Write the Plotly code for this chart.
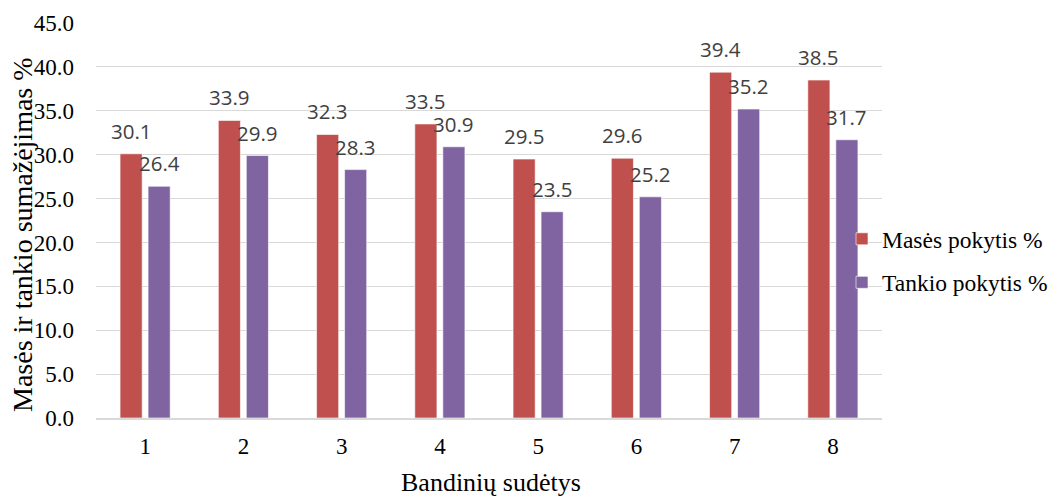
import plotly.graph_objects as go

categories = ["1", "2", "3", "4", "5", "6", "7", "8"]
mases = [30.1, 33.9, 32.3, 33.5, 29.5, 29.6, 39.4, 38.5]
tankio = [26.4, 29.9, 28.3, 30.9, 23.5, 25.2, 35.2, 31.7]
series_names = ["Masės pokytis %", "Tankio pokytis %"]
y_title = "Masės ir tankio sumažėjimas %"
x_title = "Bandinių sudėtys"

RED = "#C0504D"
PURPLE = "#8064A2"
SERIF = "Liberation Serif"
SANS = "Open Sans"

W, H = 1051, 496
ml, mr, mt, mb = 96, 169, 23, 78
pw, ph = W - ml - mr, H - mt - mb

fig = go.Figure()
fig.add_trace(go.Bar(x=categories, y=mases, name=series_names[0],
                     marker=dict(color=RED, line=dict(color="rgba(255,255,255,0.6)", width=1)),
                     legendgroup="a"))
fig.add_trace(go.Bar(x=categories, y=tankio, name=series_names[1],
                     marker=dict(color=PURPLE, line=dict(color="rgba(255,255,255,0.6)", width=1)),
                     legendgroup="b"))

ann = []
for i, v in enumerate(mases):
    ann.append(dict(x=i, y=v, xref="x", yref="y", text=f"{v:.1f}", showarrow=False,
                    xshift=-14, yshift=23, yanchor="middle", xanchor="center",
                    font=dict(family=SANS, size=20.5, color="#404040")))
for i, v in enumerate(tankio):
    ann.append(dict(x=i, y=v, xref="x", yref="y", text=f"{v:.1f}", showarrow=False,
                    xshift=14, yshift=23, yanchor="middle", xanchor="center",
                    font=dict(family=SANS, size=20.5, color="#404040")))
# axis titles
ann.append(dict(x=(22 - ml) / pw, y=(H - mb - 235) / ph, xref="paper", yref="paper",
                text=y_title, textangle=-90, showarrow=False, xanchor="center", yanchor="middle",
                font=dict(family=SERIF, size=28, color="black")))
ann.append(dict(x=(491 - ml) / pw, y=-(482 - (H - mb)) / ph, xref="paper", yref="paper",
                text=x_title, showarrow=False, xanchor="center", yanchor="middle",
                font=dict(family=SERIF, size=26, color="black")))
# clipped panel letter at top-left
ann.append(dict(x=(0 - ml) / pw, y=1 + (mt - 4) / ph, xref="paper", yref="paper",
                text="a.", showarrow=False, xanchor="left", yanchor="bottom",
                font=dict(family=SERIF, size=22, color="black")))

fig.update_layout(
    width=W, height=H,
    margin=dict(l=ml, r=mr, t=mt, b=mb, autoexpand=False),
    paper_bgcolor="white", plot_bgcolor="white",
    barmode="group", bargap=0.43, bargroupgap=0.21,
    annotations=ann,
    showlegend=True,
    legend=dict(x=(1053 - ml) / pw, y=(H - mb - 261) / ph, xanchor="right", yanchor="middle",
                font=dict(family=SERIF, size=23.5, color="black"),
                bgcolor="rgba(0,0,0,0)", tracegroupgap=10, traceorder="grouped",
                itemwidth=30),
)
fig.update_xaxes(type="category", range=[-0.5, 7.5], showgrid=False, showline=True,
                 linecolor="#D9D9D9", linewidth=2,
                 ticks="", ticklabelstandoff=6,
                 tickfont=dict(family=SERIF, size=23, color="black"))
fig.update_yaxes(range=[0, 45], dtick=5, tickformat=".1f", showgrid=True,
                 gridcolor="#D9D9D9", gridwidth=1, zeroline=False, showline=False,
                 ticks="", ticklabelstandoff=21,
                 tickfont=dict(family=SERIF, size=23, color="black"))

fig.write_html("out.html")
